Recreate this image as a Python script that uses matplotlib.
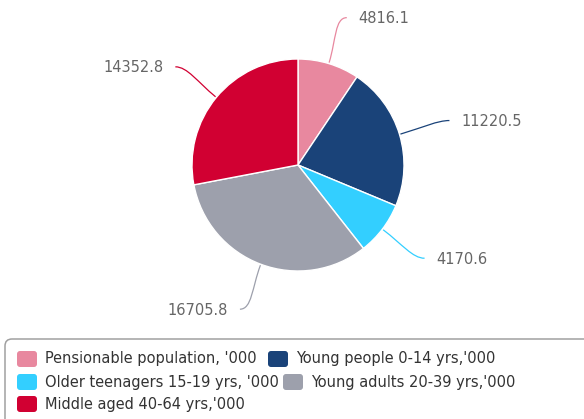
import numpy as np
import matplotlib
matplotlib.use("Agg")
import matplotlib.pyplot as plt
from matplotlib.patches import FancyBboxPatch
from matplotlib.path import Path
from matplotlib.patches import PathPatch

# population groups, thousands
groups = ["Pensionable population, '000", "Young people 0-14 yrs,'000",
          "Older teenagers 15-19 yrs, '000", "Young adults 20-39 yrs,'000",
          "Middle aged 40-64 yrs,'000"]
values = [4816.1, 11220.5, 4170.6, 16705.8, 14352.8]
colors = ["#E8889F", "#1A4379", "#33CFFF", "#9DA0AC", "#D10032"]

W, H = 584, 419
fig = plt.figure(figsize=(W / 100, H / 100), dpi=100)
ax = fig.add_axes([0, 0, 1, 1])

cx, cy, R = 298, H - 165, 106
wedges, _ = ax.pie(values, colors=colors, startangle=90, counterclock=False,
                   center=(cx, cy), radius=R, frame=True,
                   wedgeprops=dict(edgecolor="white", linewidth=1))
ax.set_xlim(0, W)
ax.set_ylim(0, H)
ax.set_aspect("equal")
ax.axis("off")

# data labels with curved connectors
label_r = 154
for w, v, c in zip(wedges, values, colors):
    th = np.deg2rad((w.theta1 + w.theta2) / 2)
    s = 1 if np.cos(th) >= 0 else -1
    p0 = (cx + (R + 1) * np.cos(th), cy + (R + 1) * np.sin(th))
    p1 = (cx + (R + 25) * np.cos(th), cy + (R + 25) * np.sin(th))
    end = (cx + label_r * np.cos(th) + s * 4, cy + label_r * np.sin(th))
    p2 = (end[0] - s * 12, end[1])
    path = Path([p0, p1, p2, end], [Path.MOVETO, Path.CURVE4, Path.CURVE4, Path.CURVE4])
    ax.add_patch(PathPatch(path, fc="none", ec=c, lw=0.9))
    ax.text(end[0] + s * 12, end[1] - 1, f"{v}", ha="left" if s > 0 else "right",
            va="center", fontsize=11.7, fontstretch="condensed", color="#666666")

# legend box
ax.add_patch(FancyBboxPatch((5, -40), 620, H - 339 + 40,
                            boxstyle="round,pad=0,rounding_size=7",
                            fc="white", ec="#A0A0A0", lw=1.1))

item_pos = [(17, 359), (268, 359), (17, 382), (283, 382), (17, 404)]
for (x, y), g, c in zip(item_pos, groups, colors):
    yy = H - y
    ax.add_patch(FancyBboxPatch((x, yy - 8), 20, 16,
                                boxstyle="round,pad=0,rounding_size=3",
                                fc=c, ec="none"))
    ax.text(x + 28, yy, g, ha="left", va="center", fontsize=11.7,
            fontstretch="condensed", color="#333333")

fig.savefig("out.png", dpi=100)
